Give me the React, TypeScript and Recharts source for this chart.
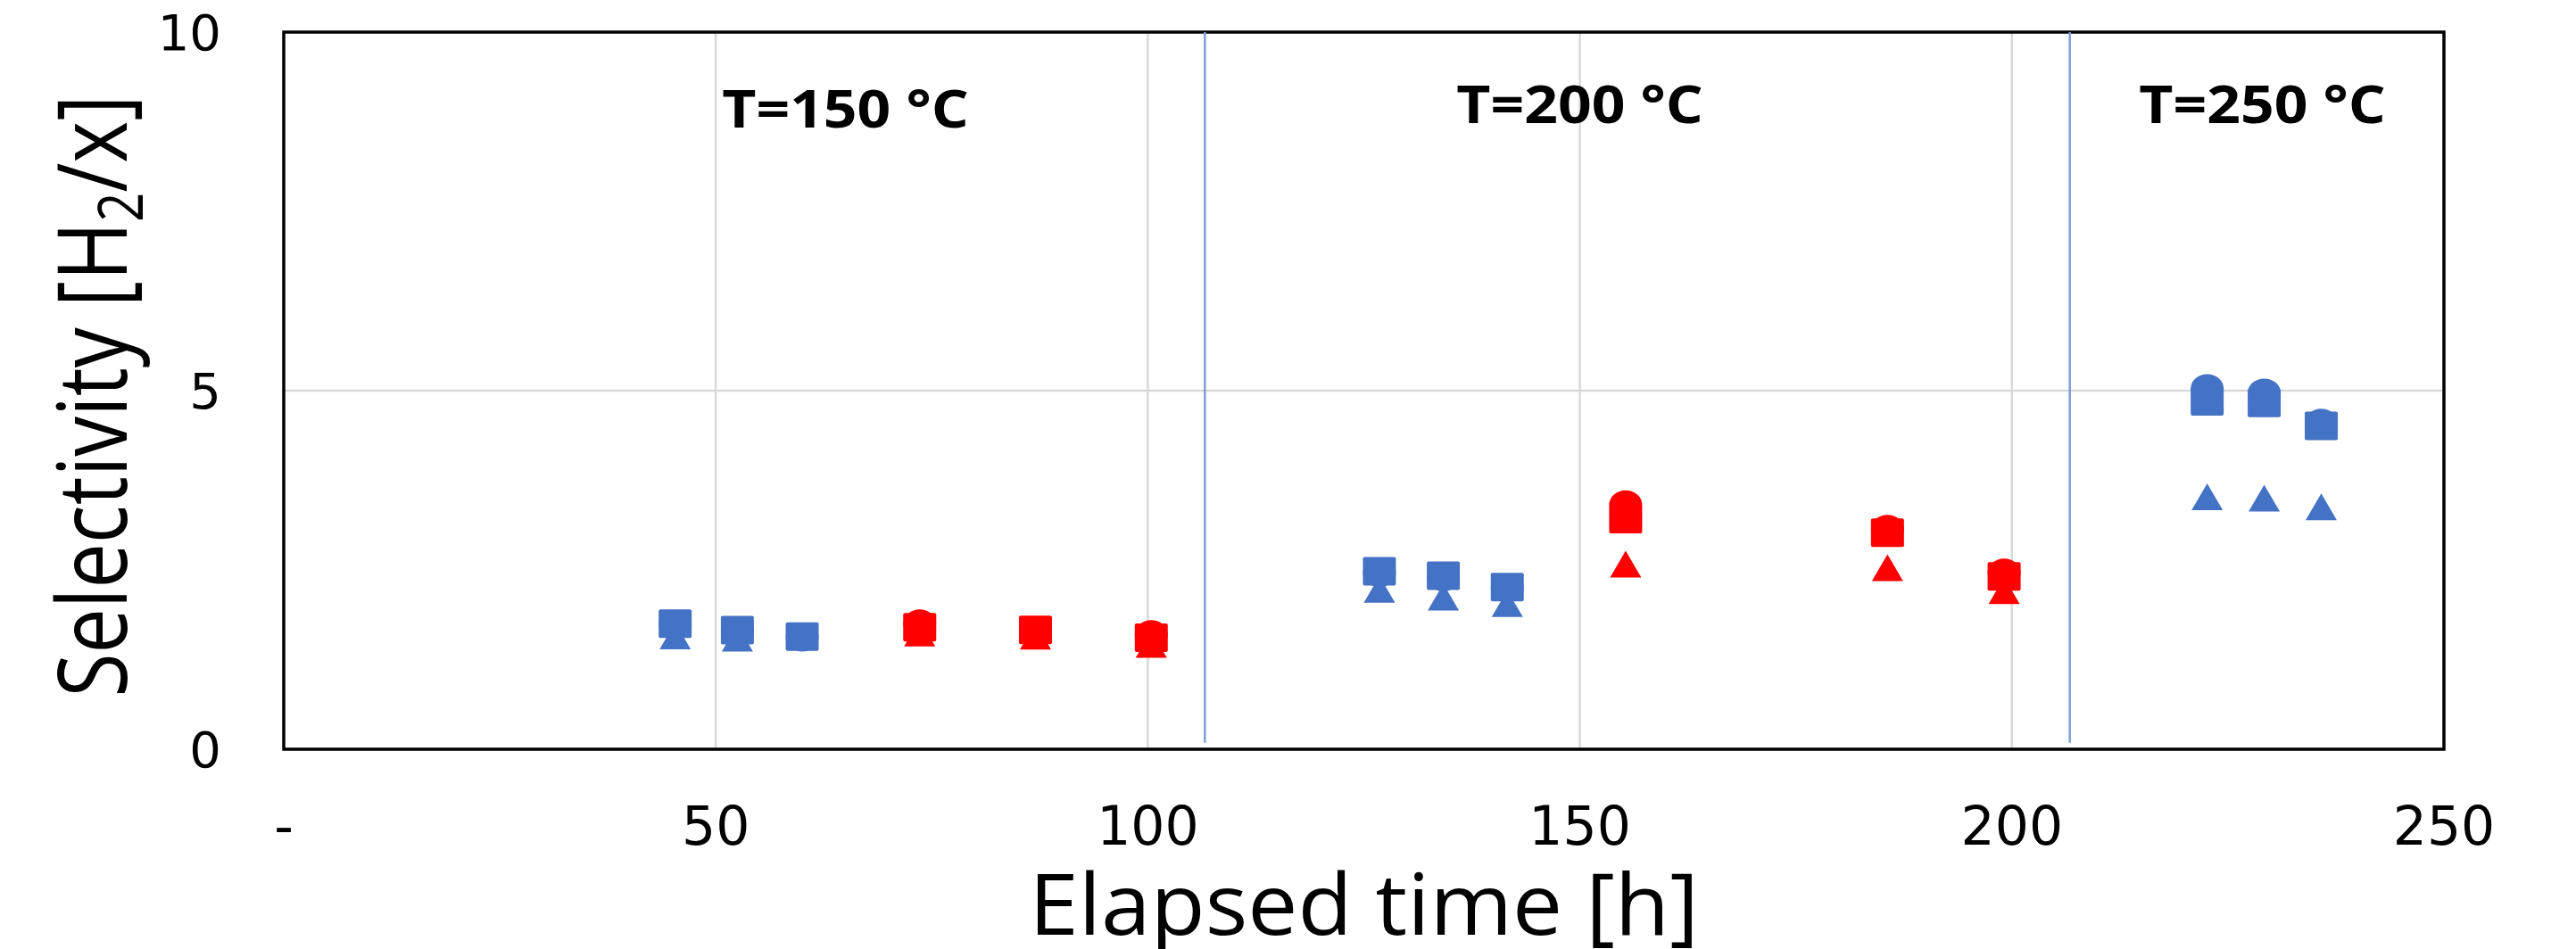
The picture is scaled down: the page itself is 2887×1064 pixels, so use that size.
import React from "react";
import {
  ScatterChart,
  Scatter,
  XAxis,
  YAxis,
  CartesianGrid,
  ReferenceLine,
  ReferenceArea,
  Label,
} from "recharts";

// ── data ─────────────────────────────────────────────────────────────────────

const X_TICKS = [0, 50, 100, 150, 200, 250];
const Y_TICKS = [0, 5, 10];

// temperature step changes (vertical blue lines)
const STEP_TIMES = [106.6, 206.7];

const TEMP_LABELS = ["T=150 °C", "T=200 °C", "T=250 °C"];
const TEMP_LABEL_X = [65, 150, 229];
const TEMP_LABEL_Y = [8.67, 8.73, 8.73];

const blueTime = [45.3, 52.5, 60.0, 126.8, 134.2, 141.6, 222.6, 229.2, 235.8];
const blueCircle = [1.74, 1.65, 1.56, 2.46, 2.4, 2.25, 5.03, 4.97, 4.55];
const blueSquare = [1.75, 1.66, 1.57, 2.48, 2.42, 2.26, 4.85, 4.83, 4.51];
const blueTriangle = [1.58, 1.55, 1.57, 2.23, 2.12, 2.03, 3.52, 3.5, 3.38];

const redTime = [73.6, 87.0, 100.4, 155.3, 185.6, 199.1];
const redCircle = [1.75, 1.65, 1.6, 3.41, 3.07, 2.46];
const redSquare = [1.7, 1.665, 1.555, 3.21, 3.02, 2.41];
const redTriangle = [1.62, 1.575, 1.46, 2.58, 2.53, 2.21];

const BLUE = "#4472C4";
const RED = "#FF0000";

const zip = (xs: number[], ys: number[]) => xs.map((x, i) => ({ x, y: ys[i] }));

const labelData = TEMP_LABELS.map((text, i) => ({
  x: TEMP_LABEL_X[i],
  y: TEMP_LABEL_Y[i],
  text,
}));

// ── marker shapes ────────────────────────────────────────────────────────────

type Kind = "circle" | "square" | "triangle";

const makeShape = (kind: Kind, color: string) => (props: any) => {
  const { cx, cy } = props;
  if (cx == null || cy == null) return null;
  if (kind === "circle") {
    return <ellipse cx={cx} cy={cy} rx={18.5} ry={16} fill={color} />;
  }
  if (kind === "square") {
    return (
      <rect x={cx - 18.5} y={cy - 16} width={37} height={32} rx={2} fill={color} />
    );
  }
  return (
    <polygon
      points={`${cx},${cy - 15} ${cx + 17.5},${cy + 15} ${cx - 17.5},${cy + 15}`}
      fill={color}
    />
  );
};

const TempLabel = (props: any) => {
  const { cx, cy } = props;
  const text = props.payload?.text ?? props.text;
  return (
    <text
      transform={`translate(${cx},${cy}) scale(1,0.9)`}
      textAnchor="middle"
      fontFamily="'Open Sans', sans-serif"
      fontWeight={700}
      fontSize={66}
      fill="#000"
    >
      {text}
    </text>
  );
};

const XTick = ({ x, y, payload }: any) => (
  <text
    x={x}
    y={y + 107}
    textAnchor="middle"
    fontFamily="'DejaVu Sans', sans-serif"
    fontSize={60}
    fill="#000"
  >
    {payload.value === 0 ? "-" : payload.value}
  </text>
);

const YTick = ({ x, y, payload }: any) => (
  <text
    x={x - 70}
    y={y + 20}
    textAnchor="end"
    fontFamily="'DejaVu Sans', sans-serif"
    fontSize={56}
    fill="#000"
  >
    {payload.value}
  </text>
);

const XTitle = ({ viewBox }: any) => {
  const vb = viewBox ?? { x: 318, y: 840, width: 2421, height: 224 };
  return (
    <text
      transform={`translate(${vb.x + vb.width / 2},${vb.y + 208}) scale(1,0.95)`}
      textAnchor="middle"
      fontFamily="'Open Sans', sans-serif"
      fontSize={100}
      fill="#000"
    >
      Elapsed time [h]
    </text>
  );
};

const YTitle = ({ viewBox }: any) => {
  const vb = viewBox ?? { x: 0, y: 36, width: 318, height: 804 };
  return (
    <text
      transform={`translate(${vb.x + 142},${vb.y + vb.height / 2 + 6}) rotate(-90) scale(0.83,1)`}
      textAnchor="middle"
      fontFamily="'Open Sans', sans-serif"
      fontSize={108}
      fill="#000"
    >
      Selectivity [H
      <tspan fontSize={70} dy={18}>
        2
      </tspan>
      <tspan dy={-18}>/x]</tspan>
    </text>
  );
};

const App = () => (
  <div style={{ position: "absolute", left: 0, top: 0, background: "#fff" }}>
    <ScatterChart
      width={2887}
      height={1064}
      margin={{ top: 36, right: 148, bottom: 0, left: 0 }}
    >
      <CartesianGrid stroke="#d9d9d9" strokeWidth={2.5} />
      <XAxis
        dataKey="x"
        type="number"
        domain={[0, 250]}
        ticks={X_TICKS}
        interval={0}
        height={224}
        tickSize={0}
        tickMargin={0}
        axisLine={false}
        tickLine={false}
        tick={XTick}
        allowDataOverflow
      >
        <Label content={XTitle} />
      </XAxis>
      <YAxis
        dataKey="y"
        type="number"
        domain={[0, 10]}
        ticks={Y_TICKS}
        interval={0}
        width={318}
        tickSize={0}
        tickMargin={0}
        axisLine={false}
        tickLine={false}
        tick={YTick}
        allowDataOverflow
      >
        <Label content={YTitle} />
      </YAxis>
      {STEP_TIMES.map((t) => (
        <ReferenceLine
          key={t}
          segment={[
            { x: t, y: 0.09 },
            { x: t, y: 10 },
          ]}
          stroke="#7F9FD8"
          strokeWidth={2.5}
        />
      ))}
      <ReferenceArea
        x1={0}
        x2={250}
        y1={0}
        y2={10}
        fill="none"
        stroke="#000"
        strokeWidth={3.5}
      />
      <Scatter data={zip(blueTime, blueTriangle)} shape={makeShape("triangle", BLUE)} isAnimationActive={false} />
      <Scatter data={zip(blueTime, blueCircle)} shape={makeShape("circle", BLUE)} isAnimationActive={false} />
      <Scatter data={zip(blueTime, blueSquare)} shape={makeShape("square", BLUE)} isAnimationActive={false} />
      <Scatter data={zip(redTime, redTriangle)} shape={makeShape("triangle", RED)} isAnimationActive={false} />
      <Scatter data={zip(redTime, redCircle)} shape={makeShape("circle", RED)} isAnimationActive={false} />
      <Scatter data={zip(redTime, redSquare)} shape={makeShape("square", RED)} isAnimationActive={false} />
      <Scatter data={labelData} shape={TempLabel} isAnimationActive={false} />
    </ScatterChart>
  </div>
);

export default App;
